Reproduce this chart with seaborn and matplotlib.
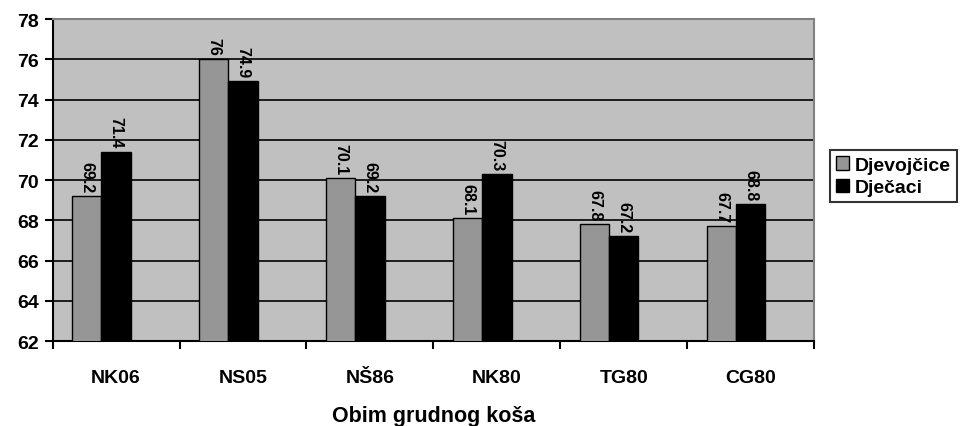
import numpy as np
import matplotlib
matplotlib.use("Agg")
import matplotlib.pyplot as plt
import seaborn as sns
import pandas as pd

# values
groups = ["NK06", "NS05", "NŠ86", "NK80", "TG80", "CG80"]
girls = [69.2, 76.0, 70.1, 68.1, 67.8, 67.7]
boys = [71.4, 74.9, 69.2, 70.3, 67.2, 68.8]
series = ["Djevojčice", "Dječaci"]
label_txt_girls = ["69.2", "76", "70.1", "68.1", "67.8", "67.7"]
label_txt_boys = ["71.4", "74.9", "69.2", "70.3", "67.2", "68.8"]

df = pd.DataFrame({
    "grupa": groups * 2,
    "spol": [series[0]] * len(groups) + [series[1]] * len(groups),
    "obim": girls + boys,
})

sns.set_style("white")
plt.rcParams["font.family"] = ["Liberation Sans", "DejaVu Sans"]
plt.rcParams["text.color"] = "black"
plt.rcParams["axes.labelcolor"] = "black"
plt.rcParams["xtick.color"] = "black"
plt.rcParams["ytick.color"] = "black"

fig = plt.figure(figsize=(9.74, 4.27), dpi=100)
ax = fig.add_axes([0.054, 0.199, 0.782, 0.754])
ax.set_facecolor("#C0C0C0")

sns.barplot(data=df, x="grupa", y="obim", hue="spol", order=groups,
            hue_order=series, palette=["#969696", "#000000"],
            width=0.46, edgecolor="black", linewidth=1.0, saturation=1,
            ax=ax, zorder=3)

ax.set_ylim(62, 78)
ax.set_yticks(np.arange(62, 79, 2))
ax.yaxis.grid(True, color="black", linewidth=1.2, zorder=1)
ax.set_axisbelow(True)

shift = 0.115
ax.set_xlim(-0.5 + shift, 5.5 + shift)
ax.set_xticks(np.arange(len(groups) + 1) - 0.5 + shift)
ax.set_xticklabels([])
ax.set_xticks(np.arange(len(groups)) + shift, minor=True)
ax.set_xticklabels(groups, minor=True, fontsize=14, fontweight="bold")
ax.tick_params(axis="x", which="major", length=6, width=1.5, direction="out", bottom=True)
ax.tick_params(axis="x", which="minor", length=0, pad=20)
ax.tick_params(axis="y", length=6, width=1.5, direction="out", left=True, labelsize=14, pad=4)
for t in ax.get_yticklabels():
    t.set_fontweight("bold")

for c, txts in zip(ax.containers, [label_txt_girls, label_txt_boys]):
    ax.bar_label(c, labels=txts, rotation=270, fontsize=11.5, fontweight="bold",
                 padding=3, zorder=4, color="black")

ax.set_xlabel("Obim grudnog koša", fontsize=15.5, fontweight="bold")
ax.xaxis.set_label_coords(0.5, -0.2)
ax.xaxis.label.set_va("top")
ax.set_ylabel("")

for s in ["left", "bottom"]:
    ax.spines[s].set_color("black")
    ax.spines[s].set_linewidth(1.5)
for s in ["top", "right"]:
    ax.spines[s].set_color("#808080")
    ax.spines[s].set_linewidth(1.5)

h, l = ax.get_legend_handles_labels()
ax.legend_.remove()
leg = fig.legend(h, l, loc="center left", bbox_to_anchor=(0.852, 0.585),
                 frameon=True, fancybox=False, edgecolor="black",
                 prop={"weight": "bold", "size": 14}, handlelength=0.7,
                 handleheight=0.7, handletextpad=0.3, borderpad=0.3,
                 labelspacing=0.25, borderaxespad=0)
leg.get_frame().set_linewidth(1.5)

fig.savefig("out.png", dpi=100)
